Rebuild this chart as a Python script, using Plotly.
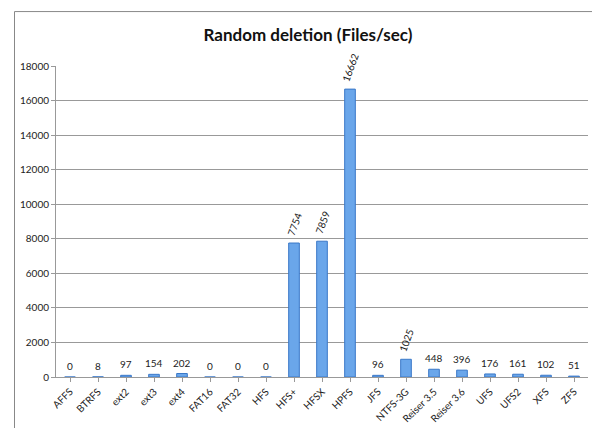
import plotly.graph_objects as go

fs = ["AFFS", "BTRFS", "ext2", "ext3", "ext4", "FAT16", "FAT32", "HFS", "HFS+", "HFSX",
      "HPFS", "JFS", "NTFS-3G", "Reiser 3.5", "Reiser 3.6", "UFS", "UFS2", "XFS", "ZFS"]
files_per_sec = [0, 8, 97, 154, 202, 0, 0, 0, 7754, 7859, 16662, 96, 1025, 448, 396, 176, 161, 102, 51]

fig = go.Figure(go.Bar(
    x=fs, y=files_per_sec, width=0.38,
    marker=dict(color="#6aa6ea", line=dict(color="#3a78c8", width=1)),
))

# value labels: big bars get rotated text like the original
for name, v in zip(fs, files_per_sec):
    rotated = v >= 1000
    fig.add_annotation(x=name, y=v, text=str(v), showarrow=False,
                       yanchor="bottom", yshift=3, textangle=-70 if rotated else 0,
                       font=dict(size=10, color="#222"))

fig.update_layout(
    width=600, height=428,
    title=dict(text="<b>Random deletion (Files/sec)</b>", x=0.5, y=0.95,
               font=dict(size=17, color="#111")),
    font=dict(family="Lato, Arial", size=10, color="#222"),
    plot_bgcolor="white", paper_bgcolor="white",
    margin=dict(l=45, r=20, t=58, b=58),
    showlegend=False,
    xaxis=dict(tickangle=-45, showline=True, linecolor="#999", ticks="outside",
               ticklen=4, tickcolor="#999"),
    yaxis=dict(range=[0, 18000], dtick=2000, tickformat="d", showgrid=True, gridcolor="#999",
               showline=True, linecolor="#999", ticks="outside", ticklen=4, tickcolor="#999"),
    shapes=[dict(type="rect", xref="paper", yref="paper", x0=-0.078, x1=1.03,
                 y0=-0.178, y1=1.175, line=dict(color="#888", width=1))],
)

fig.write_html("out.html")
